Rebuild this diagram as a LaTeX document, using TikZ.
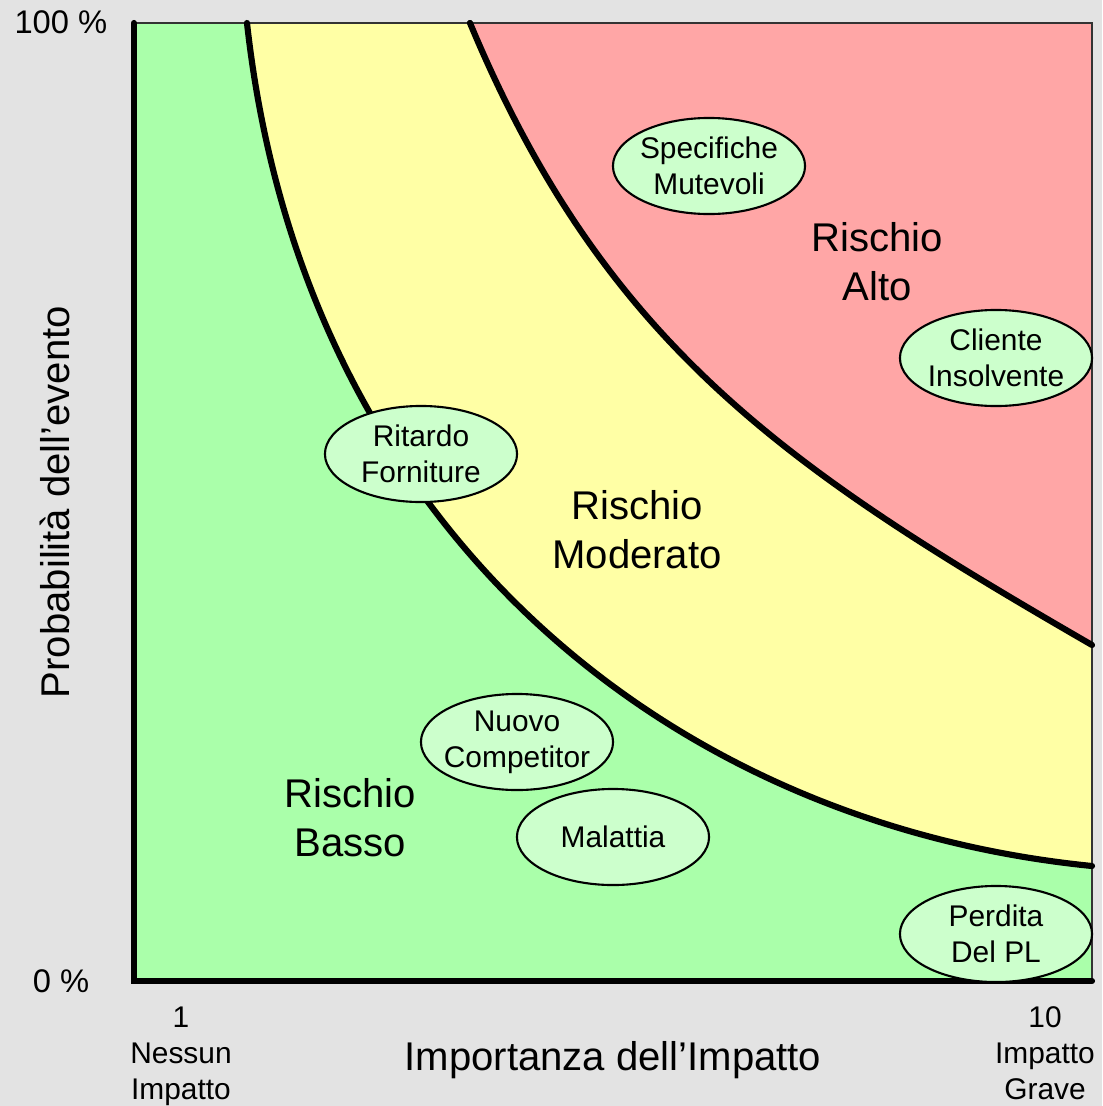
\documentclass[tikz,border=0pt]{standalone}
\usepackage{fontspec}
\setmainfont{Liberation Sans}
\usetikzlibrary{shapes.geometric}

\definecolor{canvasgray}{RGB}{227,227,227}
\definecolor{lowgreen}{RGB}{170,255,170}
\definecolor{midyellow}{RGB}{255,255,165}
\definecolor{highred}{RGB}{255,166,166}
\definecolor{bubblefill}{RGB}{204,255,204}

\newcommand\smalltext{\fontsize{8.5pt}{10.2pt}\selectfont}
\newcommand\bigtext{\fontsize{11.4pt}{13.9pt}\selectfont}

% boundary curves between the risk zones (units of 0.01cm, y grows downwards)
\newcommand\lowcurve{(247,23) .. controls (302,523) and (662,823) .. (1092,866)}
\newcommand\highcurve{(470,23) .. controls (604.75,346) and (789,470) .. (1092,645)}

\tikzset{
  bubble/.style={ellipse, draw=black, line width=0.6pt, fill=bubblefill,
    minimum width=1.92cm, minimum height=0.96cm,
    inner xsep=-0.3cm, inner ysep=-0.1cm,
    align=center, font=\smalltext},
  zonelabel/.style={align=center, font=\bigtext, inner sep=0pt},
  ticklabel/.style={align=center, anchor=north, font=\smalltext, inner sep=0pt},
  percentlabel/.style={anchor=east, inner sep=0pt, font=\fontsize{9.3pt}{11pt}\selectfont},
  boundary/.style={line width=1.75pt, line cap=round, line join=round},
  frameline/.style={line width=0.55pt, draw=black!80},
  axisline/.style={line width=1.75pt, line cap=round, line join=miter},
}

\begin{document}
\begin{tikzpicture}[x=0.01cm, y=-0.01cm]
  \useasboundingbox (0,0) rectangle (1102,1106);
  \fill[canvasgray] (0,0) rectangle (1102,1106);

  % plot area corners
  \coordinate (tl) at (134,23);
  \coordinate (tr) at (1092,23);
  \coordinate (bl) at (134,981);
  \coordinate (br) at (1092,981);

  % risk zones
  \fill[lowgreen] (tl) rectangle (br);
  \fill[midyellow] \lowcurve -- (tr) -- cycle;
  \fill[highred] \highcurve -- (tr) -- cycle;

  % frame (top and right)
  \draw[frameline] (tl) -- (tr) -- (br);

  % zone boundaries
  \draw[boundary] \lowcurve;
  \draw[boundary] \highcurve;

  % axes
  \draw[axisline] (tl) -- (bl) -- (br);

  % risk events
  \node[bubble] (spec) at (709,166) {Specifiche\\Mutevoli};
  \node[bubble] (cliente) at (996,358) {Cliente\\Insolvente};
  \node[bubble] (ritardo) at (421,454) {Ritardo\\Forniture};
  \node[bubble] (nuovo) at (517,742) {Nuovo\\Competitor};
  \node[bubble] (malattia) at (613,837) {Malattia};
  \node[bubble] (perdita) at (996,934) {Perdita\\Del PL};

  % zone names
  \node[zonelabel] (alto) at (877,262) {Rischio\\Alto};
  \node[zonelabel] (moderato) at (637,530) {Rischio\\Moderato};
  \node[zonelabel] (basso) at (350,818) {Rischio\\Basso};

  % axis labels
  \node[percentlabel] (p100) at (108,22) {100 \%};
  \node[percentlabel] (p0) at (90,981) {0 \%};
  \node[ticklabel] (imin) at (181,1006) {1\\Nessun\\Impatto};
  \node[ticklabel] (imax) at (1045,1006) {10\\Impatto\\Grave};
  \node[zonelabel] (xlabel) at (613,1060) {Importanza dell’Impatto};
  \node[zonelabel, rotate=90] (ylabel) at (55,502) {Probabilità dell’evento};
\end{tikzpicture}
\end{document}
